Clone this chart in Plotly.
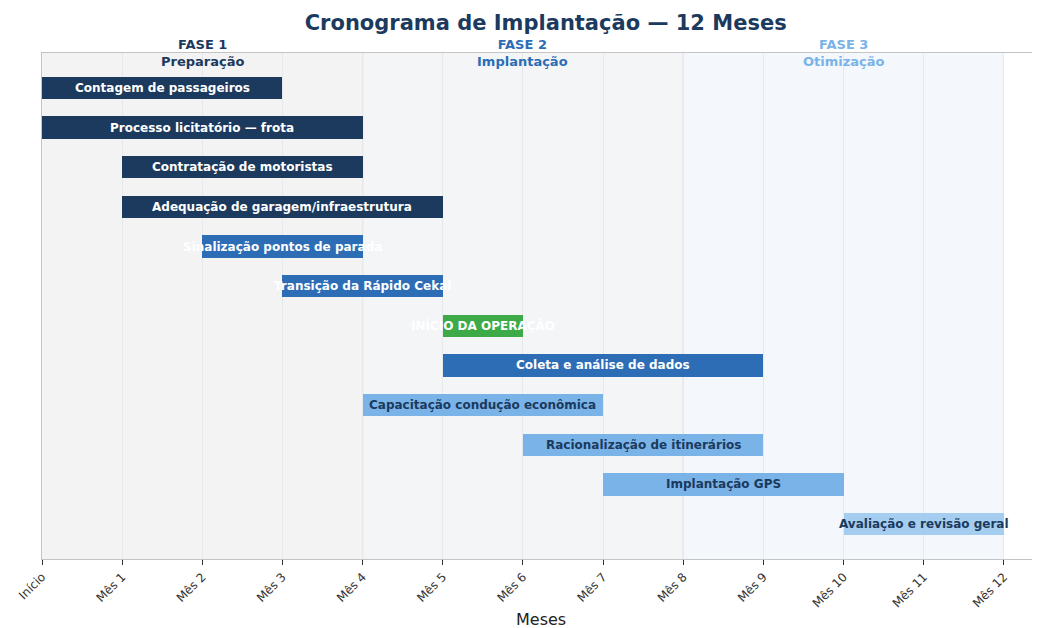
import plotly.graph_objects as go

# tasks, top to bottom
tasks = [
    "Contagem de passageiros",
    "Processo licitatório — frota",
    "Contratação de motoristas",
    "Adequação de garagem/infraestrutura",
    "Sinalização pontos de parada",
    "Transição da Rápido Cekal",
    "INÍCIO DA OPERAÇÃO",
    "Coleta e análise de dados",
    "Capacitação condução econômica",
    "Racionalização de itinerários",
    "Implantação GPS",
    "Avaliação e revisão geral",
]
start_month = [0, 0, 1, 1, 2, 3, 5, 5, 4, 6, 7, 10]
end_month = [3, 4, 4, 5, 4, 5, 6, 9, 7, 9, 10, 12]
task_group = ["prep", "prep", "prep", "prep", "impl", "impl", "start",
              "impl", "opt", "opt", "opt", "eval"]

phase_names = ["FASE 1<br>Preparação", "FASE 2<br>Implantação", "FASE 3<br>Otimização"]
phase_start = [0, 4, 8]
phase_end = [4, 8, 12]

tick_labels = ["Início"] + [f"Mês {m}" for m in range(1, 13)]

NAVY = "#1b3a5e"
BLUE = "#2c6db5"
GREEN = "#3daa48"
LIGHT = "#7ab3e8"
LIGHTER = "#a5cdf0"
bar_color = {"prep": NAVY, "impl": BLUE, "start": GREEN, "opt": LIGHT, "eval": LIGHTER}
text_color = {"prep": "white", "impl": "white", "start": "white", "opt": NAVY, "eval": NAVY}
phase_bg = ["#f3f3f4", "#f3f5f7", "#f4f8fc"]
phase_fg = [NAVY, BLUE, LIGHT]

FONT = "DejaVu Sans"
ypos = list(range(len(tasks)))

fig = go.Figure()

fig.add_trace(go.Bar(
    y=ypos,
    x=[e - s for s, e in zip(start_month, end_month)],
    base=start_month,
    orientation="h",
    width=0.56,
    marker=dict(color=[bar_color[g] for g in task_group], line=dict(width=0)),
    hovertext=tasks,
    hoverinfo="text",
    showlegend=False,
))

# task labels centred on bars, allowed to spill past the bar edge
for y, name, s, e, g in zip(ypos, tasks, start_month, end_month, task_group):
    fig.add_annotation(
        x=(s + e) / 2, y=y, text=f"<b>{name}</b>", showarrow=False,
        font=dict(family=FONT, size=12, color=text_color[g]),
        xanchor="center", yanchor="middle",
    )

# phase backgrounds, boundaries and headers
for name, s, e, bg, fg in zip(phase_names, phase_start, phase_end, phase_bg, phase_fg):
    fig.add_vrect(x0=s, x1=e, fillcolor=bg, line_width=0, layer="below")
    if s > 0:
        fig.add_vline(x=s, line=dict(color="#d9dce0", width=1.2), layer="below")
    fig.add_annotation(
        x=(s + e) / 2, y=1, yref="paper", text=f"<b>{name}</b>", showarrow=False,
        font=dict(family=FONT, size=13, color=fg),
        xanchor="center", yanchor="middle",
    )

# x axis title placed by hand so it stays inside the page
fig.add_annotation(
    x=0.5, xref="paper", y=-0.12, yref="paper", text="Meses", showarrow=False,
    font=dict(family=FONT, size=16, color="#222222"),
    xanchor="center", yanchor="middle",
)

# the page body adds an 8px offset, so the figure is 8px smaller each way
fig.update_layout(
    width=1032,
    height=620,
    margin=dict(l=34, r=0, t=45, b=69),
    paper_bgcolor="white",
    plot_bgcolor="white",
    font=dict(family=FONT),
    title=dict(
        text="<b>Cronograma de Implantação — 12 Meses</b>",
        x=0.521, xanchor="center", y=0.977, yanchor="middle",
        font=dict(family=FONT, size=21, color=NAVY),
    ),
    bargap=0,
)

fig.update_xaxes(
    range=[0, 12.45],
    automargin=False,
    tickmode="array",
    tickvals=list(range(13)),
    ticktext=tick_labels,
    tickangle=-45,
    tickfont=dict(family=FONT, size=12, color="#333333"),
    ticks="outside", ticklen=5, tickcolor="#333333",
    showgrid=True, gridcolor="#e6e8eb", gridwidth=1,
    showline=True, linecolor="#c4c4c4", linewidth=1.2, mirror=True,
    zeroline=False,
)
fig.update_yaxes(
    range=[11.88, -0.88],
    automargin=False,
    showticklabels=False,
    showgrid=False,
    zeroline=False,
    showline=True, linecolor="#c4c4c4", linewidth=1.2,
    ticks="",
)

fig.write_html("out.html")
